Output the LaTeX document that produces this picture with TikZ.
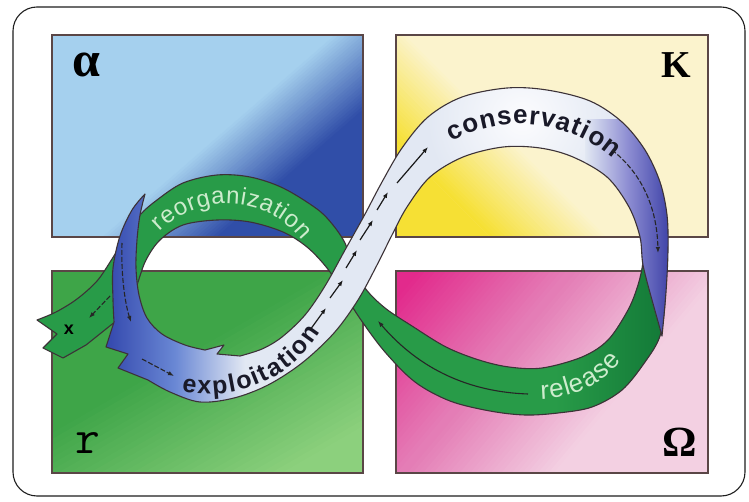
\documentclass[tikz,border=0pt]{standalone}
\usepackage{fontspec}
\setmainfont{Liberation Sans}
\newfontfamily\serifG{Liberation Serif}
\usetikzlibrary{arrows.meta}

\definecolor{frameline}{RGB}{30,30,30}
\definecolor{boxline}{RGB}{90,70,70}
\definecolor{aLight}{RGB}{165,208,238}
\definecolor{aDark}{RGB}{48,78,168}
\definecolor{kYellow}{RGB}{246,224,52}
\definecolor{kCream}{RGB}{251,243,205}
\definecolor{rDark}{RGB}{62,165,72}
\definecolor{rLight}{RGB}{140,208,125}
\definecolor{oMag}{RGB}{226,42,140}
\definecolor{oMid}{RGB}{228,125,182}
\definecolor{oPink}{RGB}{243,208,226}
\definecolor{ribOut}{RGB}{60,50,55}
\definecolor{ribBase}{RGB}{226,232,243}
\definecolor{ribTop}{RGB}{252,252,254}
\definecolor{ribBlueL}{RGB}{50,70,172}
\definecolor{ribBlueM}{RGB}{105,135,212}
\definecolor{ribBlueR}{RGB}{58,62,165}
\definecolor{ribPurp}{RGB}{140,140,210}
\definecolor{grn}{RGB}{40,155,72}
\definecolor{grnDark}{RGB}{18,120,55}
\definecolor{txtLight}{RGB}{205,236,205}
\definecolor{txtDark}{RGB}{25,25,40}

\newcommand\bandgrad[4]{%
  \foreach \gi in {0,...,29}{%
    \pgfmathtruncatemacro\gpc{round(100*\gi/29)}%
    \pgfmathsetmacro\gua{#3+(#4-(#3))*\gi/30}%
    \pgfmathsetmacro\gub{#3+(#4-(#3))*(\gi+1)/30+0.8}%
    \fill[#2!\gpc!#1] (\gua,-400) rectangle (\gub,400);%
  }}

% text on a circular arc: #1 cx, #2 cy, #3 R, #4 mid angle, #5 dir (+1 convex, -1 concave),
% #6 node style, #7 font size, #8 extra spacing, #9 list char/width(em)
\newcommand\arctext[9]{%
  \gdef\atsum{0}%
  \foreach \ch/\w in {#9}{\pgfmathsetmacro\atnew{\atsum+\w*#7+#8}\global\let\atsum\atnew}%
  \pgfmathsetmacro\attot{\atsum-#8}\global\let\attot\attot
  \gdef\atcum{0}%
  \foreach \ch/\w in {#9}{%
    \pgfmathsetmacro\ats{\atcum+\w*#7/2-\attot/2}%
    \pgfmathsetmacro\atphi{#4-#5*\ats/#3*57.29578}%
    \pgfmathsetmacro\atrot{\atphi-#5*90}%
    \node[#6, rotate=\atrot, anchor=base] at ({#1+#3*cos(\atphi)},{#2-#3*sin(\atphi)}) {\ch};%
    \pgfmathsetmacro\atnew{\atcum+\w*#7+#8}\global\let\atcum\atnew}%
}

\def\ribA{plot[smooth,tension=0.55] coordinates {(145,194) (140,215) (137,240) (136,268) (139,295) (147,318) (162,334) (185,345) (205,350)}
 -- (224,345) -- (217,354)
 -- plot[smooth,tension=0.55] coordinates {(240,356) (262,349) (282,337) (305,315) (325,286) (345,250) (364,216) (382,182) (402,148) (428,117) (462,97) (507,88) (547,90) (590,101) (622,122) (645,150) (660,182) (667,215) (668,250) (666,292) (662,336)}
 -- plot[smooth,tension=0.55] coordinates {(652,300) (643,265) (640,237) (629,207) (607,177) (573,157) (540,148) (503,147) (463,157) (430,177) (407,207) (392,235) (377,265) (358,300) (334,333) (302,363) (268,385) (234,398) (200,402) (170,392) (148,380)}
 -- (118,368) -- (128,354) -- (106,347)
 -- plot[smooth,tension=0.55] coordinates {(114,322) (113,300) (113,268) (120,236) (132,210) (145,194)} -- cycle}

\def\ribB{plot[smooth,tension=0.55] coordinates {(645,232) (643,262) (638,285) (628,310) (608,340) (582,357) (542,368) (509,367) (479,360) (446,347) (412,326) (385,308) (365,288) (352,263) (345,243) (333,225) (317,209) (283,188) (250,177) (217,175) (183,183) (157,200) (140,215) (126,236) (112,259) (97,281) (77,299) (56,312) (37,320)}
 -- (57,334) -- (43,348) -- (63,358)
 -- plot[smooth,tension=0.55] coordinates {(86,345) (106,329) (124,314) (132,300) (138,282) (146,260) (160,240) (183,225) (217,220) (250,222) (283,232) (307,247) (327,268) (343,292) (361,320) (385,352) (415,382) (450,401) (490,411) (525,415) (558,413) (592,407) (622,390) (645,362) (660,336) (665,300) (663,265) (655,232)} -- cycle}

\tikzset{
  boxframe/.style={draw=boxline, line width=1.3pt},
  ribedge/.style={draw=ribOut, line width=1.1pt, line join=round},
  qlabel/.style={inner sep=0pt, text=black},
  darktxt/.style={inner sep=0pt, text=txtDark, font=\fontsize{26}{26}\selectfont\bfseries},
  darktxts/.style={inner sep=0pt, text=txtDark, font=\fontsize{25}{25}\selectfont\bfseries},
  lighttxt/.style={inner sep=0pt, text=txtLight, font=\fontsize{24}{24}\selectfont},
  lighttxtb/.style={inner sep=0pt, text=txtLight, font=\fontsize{26}{26}\selectfont},
  diagarrow/.style={-{Latex[length=6pt,width=4.5pt]}, line width=1.2pt, draw=black!90},
  dasharrow/.style={-{Latex[length=6pt,width=4.5pt]}, line width=1.1pt, draw=black!85, dash pattern=on 5pt off 2pt},
}

\begin{document}
\begin{tikzpicture}[x=1pt,y=-1pt]
\useasboundingbox (0,0) rectangle (749,502);
\fill[white] (0,0) rectangle (749,502);
\draw[frameline, line width=1.1pt, fill=white, rounded corners=24pt] (13,7) rectangle (745,496);

% alpha box
\begin{scope}
  \clip (52,35) rectangle (363,237);
  \fill[aLight] (52,35) rectangle (363,237);
  \begin{scope}[shift={(207,136)}, rotate=-49]
    \bandgrad{aLight}{aDark}{5}{85}
    \fill[aDark] (85,-400) rectangle (400,400);
  \end{scope}
\end{scope}
\path[boxframe] (52,35) rectangle (363,237);

% K box
\begin{scope}
  \clip (396,35) rectangle (708,237);
  \fill[kCream] (396,35) rectangle (708,237);
  \begin{scope}[shift={(552,136)}, rotate=45]
    \fill[kYellow] (-400,-400) rectangle (-115,400);
    \bandgrad{kYellow}{kCream}{-115}{-30}
  \end{scope}
\end{scope}
\path[boxframe] (396,35) rectangle (708,237);

% r box
\begin{scope}
  \clip (52,271) rectangle (363,473);
  \fill[rDark] (52,271) rectangle (363,473);
  \begin{scope}[shift={(207,372)}, rotate=-60]
    \bandgrad{rDark}{rLight}{-30}{130}
    \fill[rLight] (130,-400) rectangle (400,400);
  \end{scope}
\end{scope}
\path[boxframe] (52,271) rectangle (363,473);

% Omega box
\begin{scope}
  \clip (396,271) rectangle (708,473);
  \fill[oMag] (396,271) rectangle (708,473);
  \begin{scope}[shift={(552,372)}, rotate=-40]
    \bandgrad{oMag}{oMid}{-170}{-50}
    \bandgrad{oMid}{oPink}{-50}{70}
    \fill[oPink] (70,-400) rectangle (400,400);
  \end{scope}
\end{scope}
\path[boxframe] (396,271) rectangle (708,473);

% quadrant letters
\node[qlabel] (alpha) at (86,65) {\fontsize{50}{50}\selectfont\serifG\bfseries α};
\node[qlabel] (kay) at (676,65) {\fontsize{38}{38}\selectfont\serifG\bfseries K};
\node[qlabel] (arr) at (88,443) {\fontsize{48}{48}\selectfont\ttfamily r};
\node[qlabel] (omega) at (680,442) {\fontsize{43}{43}\selectfont\serifG\bfseries Ω};

% green ribbon (release / reorganization)
\begin{scope}
  \clip \ribB;
  \fill[grn] (30,160) rectangle (680,420);
  \shade[left color=grn, right color=grnDark] (555,220) rectangle (668,420);
\end{scope}
\path[ribedge] \ribB;

% blue-white ribbon (exploitation / conservation)
\begin{scope}
  \clip \ribA;
  \fill[ribBase] (100,80) rectangle (680,410);
  \shade[inner color=ribTop, outer color=ribBase] (522,118) circle[radius=95];
  \shade[left color=ribBlueL, right color=ribBase, middle color=ribBlueM] (104,180) rectangle (245,410);
  \shade[left color=ribBase, right color=ribBlueR, middle color=ribPurp] (585,120) rectangle (672,345);
\end{scope}
\path[ribedge] \ribA;

% ribbon texts
\arctext{520}{266}{142}{84}{1}{darktxt}{26}{1}{c/.556,o/.611,n/.611,s/.556,e/.556,r/.389,v/.556,a/.556,t/.333,i/.278,o/.611,n/.611}
\arctext{209}{263}{131}{293}{-1}{darktxts}{25}{1.8}{e/.556,x/.556,p/.611,l/.278,o/.611,i/.278,t/.333,a/.556,t/.333,i/.278,o/.611,n/.611}
\arctext{227.5}{298.7}{95}{86.7}{1}{lighttxt}{24}{0.7}{r/.333,e/.556,o/.556,r/.333,g/.556,a/.556,n/.556,i/.222,z/.5,a/.556,t/.278,i/.222,o/.556,n/.556}
\arctext{539.4}{292.1}{107}{295.5}{-1}{lighttxtb}{26}{1.2}{r/.333,e/.556,l/.222,e/.556,a/.556,s/.5,e/.556}

\node[qlabel] (xlab) at (69,330) {\fontsize{18}{18}\selectfont\bfseries x};

% arrows on the diagonal
\draw[diagarrow] (310,330) -- (326,308);
\draw[diagarrow] (330,298) -- (343,280);
\draw[diagarrow] (346,268) -- (357,250);
\draw[diagarrow] (360,240) -- (373,220);
\draw[diagarrow] (377,210) -- (388,192);
\draw[diagarrow] (397,183) -- (428,147);

% other arrows
\draw[dasharrow] (612,150) .. controls (640,172) and (657,205) .. (658,253);
\draw[-{Latex[length=6pt,width=4.5pt]}, line width=1.1pt, draw=black!85]
  (528,394) .. controls (470,392) and (420,370) .. (378,321);
\draw[dasharrow] (122,243) .. controls (121,270) and (124,300) .. (131,322);
\draw[dasharrow] (142,359) -- (174,376);
\draw[dasharrow] (110,296) -- (89,318);
\end{tikzpicture}
\end{document}
